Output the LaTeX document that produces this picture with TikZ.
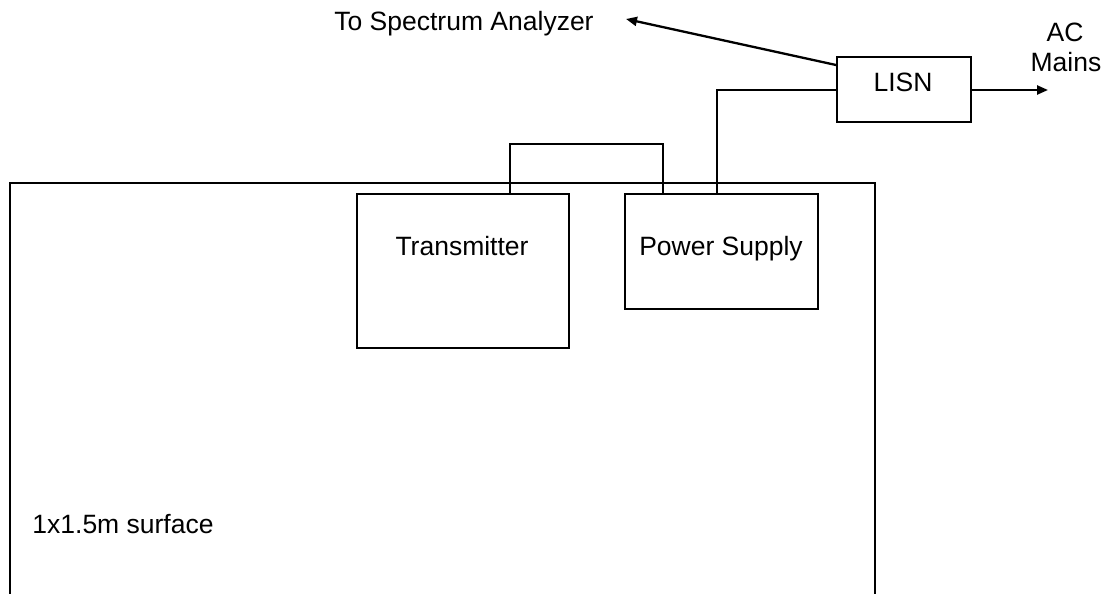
\documentclass[tikz,border=0pt]{standalone}
\usepackage{fontspec}
\setmainfont{Liberation Sans}
\usetikzlibrary{arrows.meta}
\begin{document}
\begin{tikzpicture}[x=1pt,y=-1pt,
  line width=2.3pt,
  box/.style={draw,line width=2.3pt,inner sep=0pt,anchor=north west},
  txt/.style={inner sep=0pt,anchor=base,font=\fontsize{26.5pt}{31pt}\selectfont},
  arr/.style={-{Triangle[length=11pt,width=9pt]}}]
\useasboundingbox (0,0) rectangle (1108,594);
% surface
\coordinate (sbl) at (10,594);
\coordinate (sbr) at (875,594);
\draw (sbl) -- (10,183) -- (875,183) -- (sbr);
\node[txt] (surf) at (123,533) {1x1.5m surface};
% boxes
\node[box,minimum width=212pt,minimum height=154pt] (tx) at (356,193) {};
\node[txt] (txl) at (462,255) {Transmitter};
\node[box,minimum width=193pt,minimum height=115pt] (ps) at (624,193) {};
\node[txt] (psl) at (721,255) {Power Supply};
\node[box,minimum width=134pt,minimum height=65pt] (lisn) at (836,56) {};
\node[txt] (lisnl) at (903,91) {LISN};
% labels
\node[txt] (sa) at (464,31) {To Spectrum Analyzer};
\node[txt] (ac) at (1065,42) {AC};
\node[txt] (mains) at (1066,71) {Mains};
\coordinate (saend) at (626,19);
\coordinate (acend) at (1048,90);
% connectors
\draw ([xshift=154pt]tx.north west) |- (663,144) -- ([xshift=39pt]ps.north west);
\draw ([xshift=93pt]ps.north west) |- ([yshift=-34pt]lisn.north west);
\draw[arr] ([yshift=-34pt]lisn.north east) -- (acend);
\draw[arr] ([yshift=-9pt]lisn.north west) -- (saend);
\end{tikzpicture}
\end{document}
